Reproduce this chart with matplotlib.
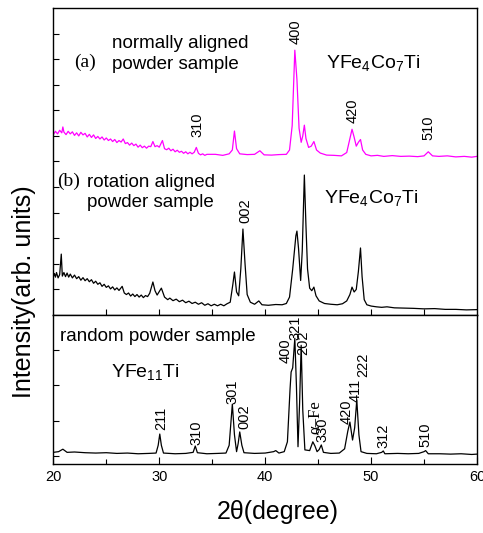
import numpy as np
import matplotlib.pyplot as plt

plt.rcParams['font.family'] = ['Liberation Sans', 'DejaVu Sans']
plt.rcParams['mathtext.default'] = 'regular'

# (a) normally aligned YFe4Co7Ti, offset up in the upper panel
a_x = [20.0, 20.2, 20.4, 20.6, 20.8, 20.9, 21.0, 21.2, 21.4, 21.6, 21.8, 22.0, 22.2, 22.4, 22.6,
       22.8, 23.0, 23.2, 23.4, 23.6, 23.8, 24.0, 24.2, 24.4, 24.6, 24.8, 25.0, 25.2, 25.4, 25.6,
       25.8, 26.0, 26.2, 26.4, 26.6, 26.8, 27.0, 27.2, 27.4, 27.6, 27.8, 28.0, 28.2, 28.4, 28.6,
       28.8, 29.0, 29.2, 29.4, 29.6, 29.8, 30.0, 30.3, 30.5, 30.7, 30.9, 31.1, 31.3, 31.5, 31.7,
       31.9, 32.1, 32.3, 32.5, 32.7, 32.9, 33.1, 33.3, 33.5, 33.7, 33.9, 34.1, 34.3, 34.5, 35.3,
       36.0, 36.6, 36.9, 37.1, 37.3, 37.6, 38.3, 39.0, 39.5, 39.9, 40.6, 41.3,
       42.0, 42.3, 42.55, 42.8, 43.0, 43.2, 43.4, 43.55, 43.7, 43.85, 44.1, 44.35, 44.6, 44.85,
       45.2, 45.8, 46.5, 47.2, 47.7, 48.0, 48.2, 48.4, 48.6, 48.8, 49.0, 49.2, 49.5, 50.0, 50.6,
       51.2, 52.0, 52.8, 53.6, 54.4, 55.0, 55.4, 55.8, 56.4, 57.2, 58.0, 58.8, 59.5, 60.0]
a_y = [7.05, 7.18, 7.08, 7.22, 7.12, 7.35, 7.15, 7.05, 7.18, 7.08, 7.16, 7.02, 7.12, 7.00, 7.14,
       7.04, 7.10, 6.96, 7.06, 6.94, 7.04, 6.90, 6.98, 6.88, 6.96, 6.84, 6.92, 6.82, 6.88, 6.78,
       6.86, 6.74, 6.82, 6.76, 6.88, 6.70, 6.74, 6.64, 6.72, 6.62, 6.68, 6.56, 6.64, 6.54, 6.60,
       6.52, 6.60, 6.58, 6.78, 6.58, 6.62, 6.56, 6.82, 6.50, 6.46, 6.52, 6.42, 6.48, 6.38, 6.44,
       6.36, 6.40, 6.32, 6.38, 6.30, 6.36, 6.30, 6.36, 6.55, 6.32, 6.26, 6.30, 6.24, 6.28, 6.28,
       6.24, 6.30, 6.45, 7.19, 6.50, 6.30, 6.27, 6.28, 6.42, 6.26, 6.25, 6.27,
       6.28, 6.45, 7.40, 10.35, 9.20, 7.30, 6.75, 7.00, 7.42, 6.90, 6.55, 6.60, 6.78, 6.45,
       6.33, 6.25, 6.24, 6.22, 6.35, 6.90, 7.26, 6.95, 6.60, 6.75, 6.86, 6.45, 6.28, 6.22, 6.24,
       6.20, 6.23, 6.20, 6.21, 6.19, 6.22, 6.38, 6.22, 6.20, 6.22, 6.18, 6.20, 6.17, 6.20]

# (b) rotation aligned YFe4Co7Ti
b_x = [20.0, 20.1, 20.2, 20.3, 20.45, 20.6, 20.75, 20.85, 21.0, 21.15, 21.3, 21.45, 21.6, 21.8,
       22.0, 22.2, 22.4, 22.6, 22.8, 23.0, 23.2, 23.4, 23.6, 23.8, 24.0, 24.2, 24.4, 24.6, 24.8,
       25.0, 25.2, 25.4, 25.6, 25.8, 26.0, 26.2, 26.5, 26.7, 26.9, 27.1, 27.3, 27.5, 27.7, 27.9,
       28.1, 28.3, 28.5, 28.7, 28.9, 29.1, 29.4, 29.6, 29.8, 30.2, 30.5, 30.8, 31.0, 31.3, 31.6,
       31.9, 32.2, 32.5, 32.8, 33.1, 33.4, 33.7, 34.0, 34.3, 34.6, 34.9, 35.2, 35.5, 35.8, 36.1,
       36.4, 36.7, 36.95, 37.1, 37.3, 37.5, 37.7,
       37.9, 38.1, 38.3, 38.6, 39.0, 39.4, 39.7, 40.3, 41.0, 41.6, 42.0, 42.3, 42.6, 42.9, 43.0,
       43.15, 43.35, 43.5, 43.7, 43.85, 44.0, 44.2, 44.4, 44.6, 44.8, 45.1, 45.6, 46.2, 46.8,
       47.3, 47.7, 48.0, 48.2, 48.4, 48.6, 48.8, 49.0, 49.15, 49.35, 49.6, 50.0, 50.5, 51.0,
       51.5, 52.2, 53.0, 54.0, 55.0, 56.0, 57.0, 58.0, 59.0, 60.0]
b_y = [1.50, 1.62, 1.48, 1.66, 1.45, 1.58, 2.38, 1.52, 1.66, 1.50, 1.64, 1.48, 1.60, 1.45,
       1.56, 1.42, 1.50, 1.36, 1.46, 1.34, 1.42, 1.30, 1.38, 1.24, 1.32, 1.20, 1.26, 1.12, 1.20,
       1.08, 1.14, 1.02, 1.10, 0.98, 1.06, 0.96, 1.12, 0.86, 0.80, 0.86, 0.74, 0.82, 0.72, 0.80,
       0.70, 0.78, 0.68, 0.76, 0.72, 0.85, 1.29, 0.95, 0.78, 1.05, 0.70, 0.60, 0.66, 0.56, 0.62,
       0.52, 0.58, 0.48, 0.54, 0.45, 0.50, 0.42, 0.48, 0.38, 0.44, 0.36, 0.42, 0.36, 0.42, 0.36,
       0.44, 0.50, 1.20, 1.68, 0.90, 0.75, 1.80,
       3.36, 2.00, 0.80, 0.50, 0.42, 0.55, 0.40, 0.38, 0.41, 0.40, 0.45, 0.70, 1.80, 3.10, 3.28,
       2.60, 1.35, 2.50, 5.47, 3.50, 1.80, 1.05, 0.95, 1.09, 0.75, 0.55, 0.45, 0.42, 0.40,
       0.44, 0.55, 0.80, 1.09, 0.90, 1.00, 1.70, 2.62, 1.50, 0.60, 0.40, 0.35, 0.32, 0.30,
       0.32, 0.28, 0.27, 0.26, 0.24, 0.25, 0.22, 0.22, 0.20, 0.21]

# (c) random powder YFe11Ti
c_x = [20.0, 20.5, 20.9, 21.3, 22.0, 23.0, 24.0, 25.0, 26.0, 27.0, 28.0, 29.0, 29.7, 29.9, 30.05,
       30.2, 30.4, 31.5, 32.5, 33.2, 33.4, 33.6, 34.5, 35.5, 36.3, 36.6, 36.9, 37.1, 37.3, 37.45,
       37.6, 37.8, 38.0, 39.0, 40.0, 40.8, 41.0, 41.3, 41.8, 42.1, 42.35, 42.45, 42.6, 42.8, 42.95,
       43.1, 43.25, 43.4, 43.55, 43.75, 44.2, 44.5, 44.7, 44.9, 45.1, 45.3, 45.5, 46.2, 47.0,
       47.5, 47.8, 48.0, 48.25, 48.45, 48.65, 48.85, 49.05, 49.6, 50.5, 51.0, 51.15, 51.3, 52.5,
       53.5, 54.5, 55.0, 55.15, 55.4, 56.5, 57.5, 58.5, 59.5, 60.0]
c_y = [0.10, 0.12, 0.19, 0.10, 0.11, 0.09, 0.08, 0.09, 0.07, 0.08, 0.06, 0.07, 0.08, 0.30, 0.62,
       0.30, 0.08, 0.06, 0.07, 0.10, 0.28, 0.09, 0.06, 0.07, 0.08, 0.30, 1.47, 0.60, 0.12, 0.35,
       0.68, 0.30, 0.09, 0.07, 0.08, 0.12, 0.15, 0.08, 0.12, 0.40, 1.90, 2.38, 2.50, 3.34, 2.00,
       0.26, 1.50, 3.14, 1.30, 0.17, 0.15, 0.40, 0.28, 0.12, 0.18, 0.31, 0.10, 0.07, 0.08,
       0.20, 0.70, 0.96, 0.45, 0.80, 1.59, 0.60, 0.12, 0.07, 0.06, 0.10, 0.14, 0.06, 0.07,
       0.06, 0.07, 0.12, 0.15, 0.06, 0.06, 0.05, 0.06, 0.04, 0.05]

# peak index labels: (text, 2theta, y of label bottom)
a_labels = [('310', 33.6, 6.95), ('400', 42.9, 10.6), ('420', 48.3, 7.5), ('510', 55.4, 6.84)]
b_labels = [('002', 38.1, 3.6)]
c_labels = [('211', 30.2, 0.74), ('310', 33.5, 0.31), ('301', 36.9, 1.47), ('002', 38.0, 0.76),
            ('400', 41.9, 2.63), ('321', 42.9, 3.29), ('202', 43.6, 2.86), ('330', 45.4, 0.40),
            ('420', 47.7, 0.90), ('411', 48.5, 1.53), ('222', 49.3, 2.24), ('312', 51.2, 0.23),
            ('510', 55.1, 0.26)]

fig = plt.figure(figsize=(4.83, 5.33), dpi=100)
ax_top = fig.add_axes([0.1104, 0.409, 0.8772, 0.576])
ax_bot = fig.add_axes([0.1104, 0.1295, 0.8772, 0.2795])

ax_top.plot(a_x, a_y, color='#ff00ff', lw=0.9)
ax_top.plot(b_x, b_y, color='black', lw=0.9)
ax_bot.plot(c_x, c_y, color='black', lw=0.9)

for ax in (ax_top, ax_bot):
    ax.set_xlim(20, 60)
    for s in ax.spines.values():
        s.set_linewidth(1.0)
    ax.tick_params(which='both', direction='in', right=False, top=False, width=0.8)

ax_top.set_ylim(0, 12)
ax_top.set_yticks(np.arange(1, 12))
ax_top.set_xticks(np.arange(25, 60, 5))
ax_top.tick_params(labelleft=False, labelbottom=False, length=4)

ax_bot.set_ylim(-0.23, 4.0)
ax_bot.set_yticks([0, 1, 2, 3])
ax_bot.set_xticks([20, 30, 40, 50, 60])
ax_bot.set_xticks([25, 35, 45, 55], minor=True)
ax_bot.tick_params(labelleft=False, labelsize=10.5, pad=4)
ax_bot.tick_params(which='major', length=5)
ax_bot.tick_params(which='minor', length=3.5)
ax_bot.tick_params(axis='y', length=4)

for lbls, ax in ((a_labels, ax_top), (b_labels, ax_top), (c_labels, ax_bot)):
    for t, x, y in lbls:
        ax.text(x, y, t, rotation=90, ha='center', va='bottom', fontsize=10.5)
ax_bot.text(44.7, 0.62, 'α–Fe', rotation=90, ha='center', va='bottom', fontsize=12,
            family=['Liberation Serif', 'DejaVu Serif'])

ax_top.text(22.0, 9.89, '(a)', fontsize=14, va='center', family='Liberation Serif')
ax_top.text(25.5, 10.2, 'normally aligned\npowder sample', fontsize=13.5, va='center', linespacing=1.25)
ax_top.text(45.7, 9.64, r'YFe$_4$Co$_7$Ti', fontsize=14, va='baseline')
ax_top.text(20.4, 5.23, '(b)', fontsize=14, va='center', family='Liberation Serif')
ax_top.text(23.2, 4.79, 'rotation aligned\npowder sample', fontsize=13.5, va='center', linespacing=1.25)
ax_top.text(45.6, 4.36, r'YFe$_4$Co$_7$Ti', fontsize=14, va='baseline')
ax_bot.text(20.6, 3.40, 'random powder sample', fontsize=13.5, va='center')
ax_bot.text(25.4, 2.25, r'YFe$_{11}$Ti', fontsize=14, va='baseline')

fig.text(278 / 483, 1 - 512 / 533, '2θ(degree)', fontsize=18, ha='center', va='center')
fig.text(24 / 483, 1 - 292 / 533, 'Intensity(arb. units)', fontsize=18, rotation=90,
         ha='center', va='center')

fig.savefig('out.png', dpi=100)
